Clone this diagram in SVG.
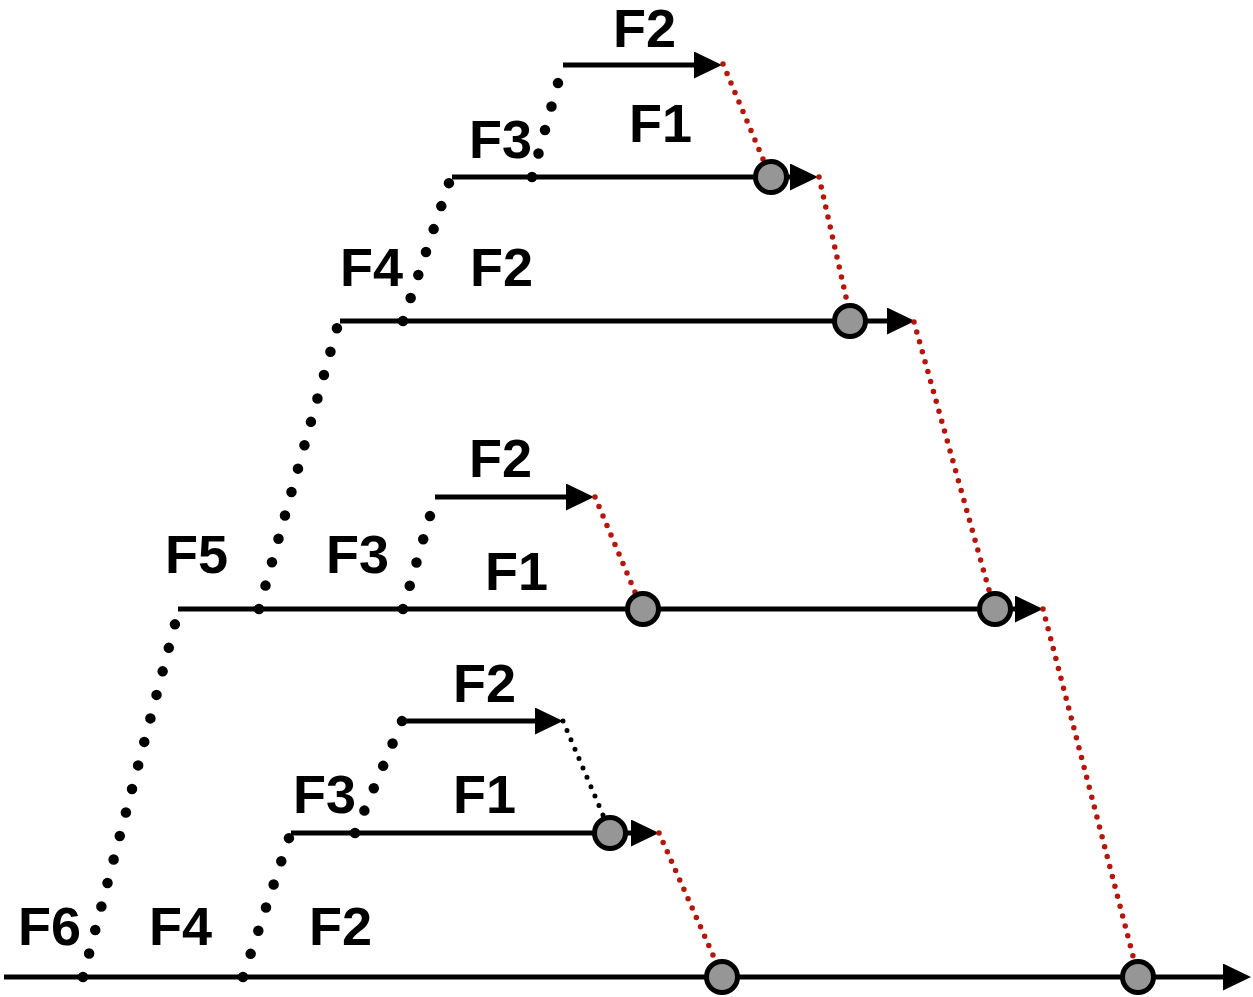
<svg xmlns="http://www.w3.org/2000/svg" width="1253" height="997" viewBox="0 0 1253 997">
<style>
.ln{fill:none;stroke:#000;stroke-width:5;marker-end:url(#ah)}
.jump{fill:none;stroke:#000;stroke-width:10.5;stroke-linecap:round;stroke-dasharray:0 0.999}
.red{fill:none;stroke:#b5160a;stroke-width:5.5;stroke-linecap:round;stroke-dasharray:0 0.999}
.blk{fill:none;stroke:#000;stroke-width:5;stroke-linecap:round;stroke-dasharray:0 0.999}
.nd{fill:#969696;stroke:#000;stroke-width:5}
.lb{font-family:"Liberation Sans",Arial,sans-serif;font-weight:bold;font-size:54px;fill:#000}
</style>
<defs>
<marker id="ah" viewBox="0 0 28 27" markerWidth="28" markerHeight="27" markerUnits="userSpaceOnUse" refX="8" refY="13.5" orient="auto">
<path d="M0,0 L28,13.5 L0,27 z" fill="#000"/>
</marker>
</defs>
<rect width="1253" height="997" fill="#fff"/>
<g id="connectors">
<path class="ln" d="M4,977 H1231"/>
<path class="ln" d="M291,833 H639"/>
<path class="ln" d="M402,721 H543"/>
<path class="ln" d="M178,609 H1023"/>
<path class="ln" d="M435,497 H574"/>
<path class="ln" d="M340,321 H895"/>
<path class="ln" d="M452,177 H798"/>
<path class="ln" d="M563,65 H702"/>
<path class="jump" d="M83,977 L175,624" pathLength="15"/>
<path class="jump" d="M259,609 L337,328" pathLength="12"/>
<path class="jump" d="M243,977 L289,838" pathLength="6"/>
<path class="jump" d="M355,833 L402,721" pathLength="5"/>
<path class="jump" d="M403,609 L430,516" pathLength="4"/>
<path class="jump" d="M403,321 L449,183" pathLength="6"/>
<path class="jump" d="M532,177 L558,83" pathLength="4"/>
<path class="red" d="M723,64 L763,159" pathLength="10"/>
<path class="red" d="M819,177 L846,297" pathLength="12"/>
<path class="red" d="M914,322 L989,590" pathLength="27"/>
<path class="red" d="M595,497 L635,592" pathLength="10"/>
<path class="red" d="M1043,609 L1133,956" pathLength="35"/>
<path class="red" d="M659,833 L713,955" pathLength="13"/>
<path class="blk" d="M563,721 L603,815" pathLength="10"/>
</g>
<g id="node-a"><circle class="nd" cx="771" cy="177" r="15.5"/></g>
<g id="node-b"><circle class="nd" cx="850" cy="321" r="15.5"/></g>
<g id="node-c"><circle class="nd" cx="643" cy="609" r="15.5"/></g>
<g id="node-d"><circle class="nd" cx="995" cy="609" r="15.5"/></g>
<g id="node-e"><circle class="nd" cx="610" cy="833" r="15.5"/></g>
<g id="node-f"><circle class="nd" cx="722" cy="977" r="15.5"/></g>
<g id="node-g"><circle class="nd" cx="1138" cy="977" r="15.5"/></g>
<g id="labels">
<text class="lb" x="613" y="47">F2</text>
<text class="lb" x="629" y="142">F1</text>
<text class="lb" x="469" y="158">F3</text>
<text class="lb" x="340" y="286">F4</text>
<text class="lb" x="470" y="286">F2</text>
<text class="lb" x="469" y="477">F2</text>
<text class="lb" x="485" y="590">F1</text>
<text class="lb" x="326" y="573">F3</text>
<text class="lb" x="165" y="573">F5</text>
<text class="lb" x="453" y="702">F2</text>
<text class="lb" x="293" y="813">F3</text>
<text class="lb" x="453" y="813">F1</text>
<text class="lb" x="18" y="945">F6</text>
<text class="lb" x="149" y="945">F4</text>
<text class="lb" x="309" y="945">F2</text>
</g>
</svg>
